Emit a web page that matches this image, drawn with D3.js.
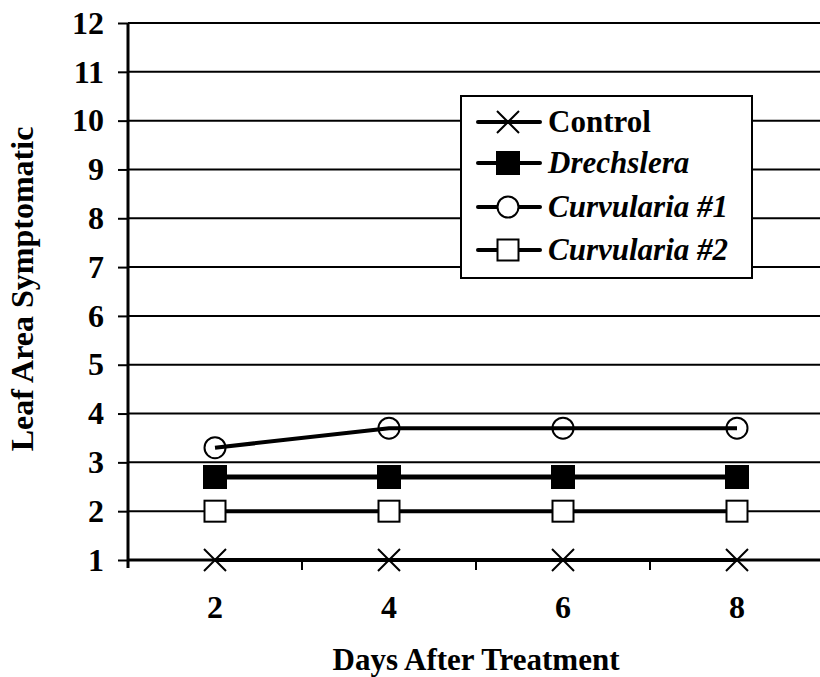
<!DOCTYPE html>
<html><head><meta charset="utf-8">
<script src="https://cdn.jsdelivr.net/npm/d3@7"></script>
<style>body{margin:0;background:#fff}svg{display:block}
svg text{font-family:"Liberation Serif","Times New Roman",serif;font-weight:bold;fill:#000}</style>
</head><body>
<svg id="c" width="820" height="677"></svg>
<script>
const days = ["2","4","6","8"];
const yTicks = [1,2,3,4,5,6,7,8,9,10,11,12];
const control = [1,1,1,1];
const drechslera = [2.7,2.7,2.7,2.7];
const curvularia1 = [3.3,3.7,3.7,3.7];
const curvularia2 = [2,2,2,2];
const seriesNames = ["Control","Drechslera","Curvularia #1","Curvularia #2"];

const series = [
  {name:seriesNames[0], values:control, marker:"x", italic:false, lw:4},
  {name:seriesNames[1], values:drechslera, marker:"fsq", italic:true, lw:5},
  {name:seriesNames[2], values:curvularia1, marker:"circ", italic:true, lw:4},
  {name:seriesNames[3], values:curvularia2, marker:"osq", italic:true, lw:4}
];

const svg = d3.select("#c");
const font = '"Liberation Serif","Times New Roman",serif';
const L=128, R=824, T=23, B=560;
const x = d3.scaleBand().domain(days).range([L,R]);
const y = d3.scaleLinear().domain([1,12]).range([B,T]);

// gridlines
svg.append("g").selectAll("line").data(yTicks.filter(d=>d>1)).join("line")
  .attr("x1",L).attr("x2",R).attr("y1",d=>y(d)).attr("y2",d=>y(d))
  .attr("stroke","#000").attr("stroke-width",2);

// y axis
const ya = svg.append("g").attr("transform",`translate(${L},0)`)
  .call(d3.axisLeft(y).tickValues(yTicks).tickSize(10).tickPadding(14).tickFormat(d3.format("d")));
ya.attr("font-family",null).attr("font-size",null);
ya.select(".domain").attr("stroke-width",3).attr("d",`M0,${T}V${B+8}`);
ya.selectAll(".tick line").attr("stroke-width",2);
ya.selectAll("text").style("font-family",font).style("font-weight","bold").style("font-size","32px").attr("fill","#000");

// x axis
const xa = svg.append("g").attr("transform",`translate(0,${B})`);
xa.append("line").attr("x1",L).attr("x2",R).attr("y1",0).attr("y2",0).attr("stroke","#000").attr("stroke-width",3);
xa.selectAll("line.t").data(days.slice(1)).join("line").attr("class","t")
  .attr("x1",d=>x(d)).attr("x2",d=>x(d)).attr("y1",0).attr("y2",10).attr("stroke","#000").attr("stroke-width",2);
xa.selectAll("text").data(days).join("text")
  .attr("x",d=>x(d)+x.bandwidth()/2).attr("y",58).attr("text-anchor","middle")
  .style("font-size","32px").text(d=>d);

// titles
svg.append("text").attr("x",476).attr("y",670).attr("text-anchor","middle")
  .style("font-size","31px").text("Days After Treatment");
svg.append("text").attr("transform","translate(33,289) rotate(-90)").attr("text-anchor","middle")
  .style("font-size","32px").text("Leaf Area Symptomatic");

function drawMarker(g, type, cx, cy){
  if(type==="x"){
    const s=11;
    g.append("path").attr("d",`M${cx-s},${cy-s}L${cx+s},${cy+s}M${cx-s},${cy+s}L${cx+s},${cy-s}`)
      .attr("stroke","#000").attr("stroke-width",2).attr("fill","none");
  } else if(type==="fsq"){
    g.append("rect").attr("x",cx-12).attr("y",cy-12).attr("width",24).attr("height",24).attr("fill","#000");
  } else if(type==="osq"){
    g.append("rect").attr("x",cx-10.5).attr("y",cy-10.5).attr("width",21).attr("height",21)
      .attr("fill","#fff").attr("stroke","#000").attr("stroke-width",2);
  } else if(type==="circ"){
    g.append("circle").attr("cx",cx).attr("cy",cy).attr("r",10.5)
      .attr("fill","#fff").attr("stroke","#000").attr("stroke-width",2);
  }
}

const cxOf = d=>x(d)+x.bandwidth()/2;
const line = d3.line().x(d=>cxOf(d.day)).y(d=>y(d.v));
series.forEach(s=>{
  const pts = days.map((d,i)=>({day:d, v:s.values[i]}));
  const g = svg.append("g");
  if(s.marker==="circ"){
    pts.forEach(p=>drawMarker(g,s.marker,cxOf(p.day),y(p.v)));
    g.append("path").attr("d",line(pts)).attr("fill","none").attr("stroke","#000").attr("stroke-width",s.lw);
  } else {
    g.append("path").attr("d",line(pts)).attr("fill","none").attr("stroke","#000").attr("stroke-width",s.lw);
    pts.forEach(p=>drawMarker(g,s.marker,cxOf(p.day),y(p.v)));
  }
});

// legend
const lg = svg.append("g");
lg.append("rect").attr("x",461).attr("y",96).attr("width",291).attr("height",182)
  .attr("fill","#fff").attr("stroke","#000").attr("stroke-width",2);
const rowY = [122,163,207,250];
series.forEach((s,i)=>{
  const yy=rowY[i];
  lg.append("line").attr("x1",478).attr("x2",540).attr("y1",yy).attr("y2",yy)
    .attr("stroke","#000").attr("stroke-width",4).attr("stroke-linecap","round");
  drawMarker(lg, s.marker, 508, yy);
  lg.append("text").attr("x",548).attr("y",yy+10)
    .style("font-style",s.italic?"italic":"normal").style("font-size","31px").text(s.name);
});
</script>
</body></html>
